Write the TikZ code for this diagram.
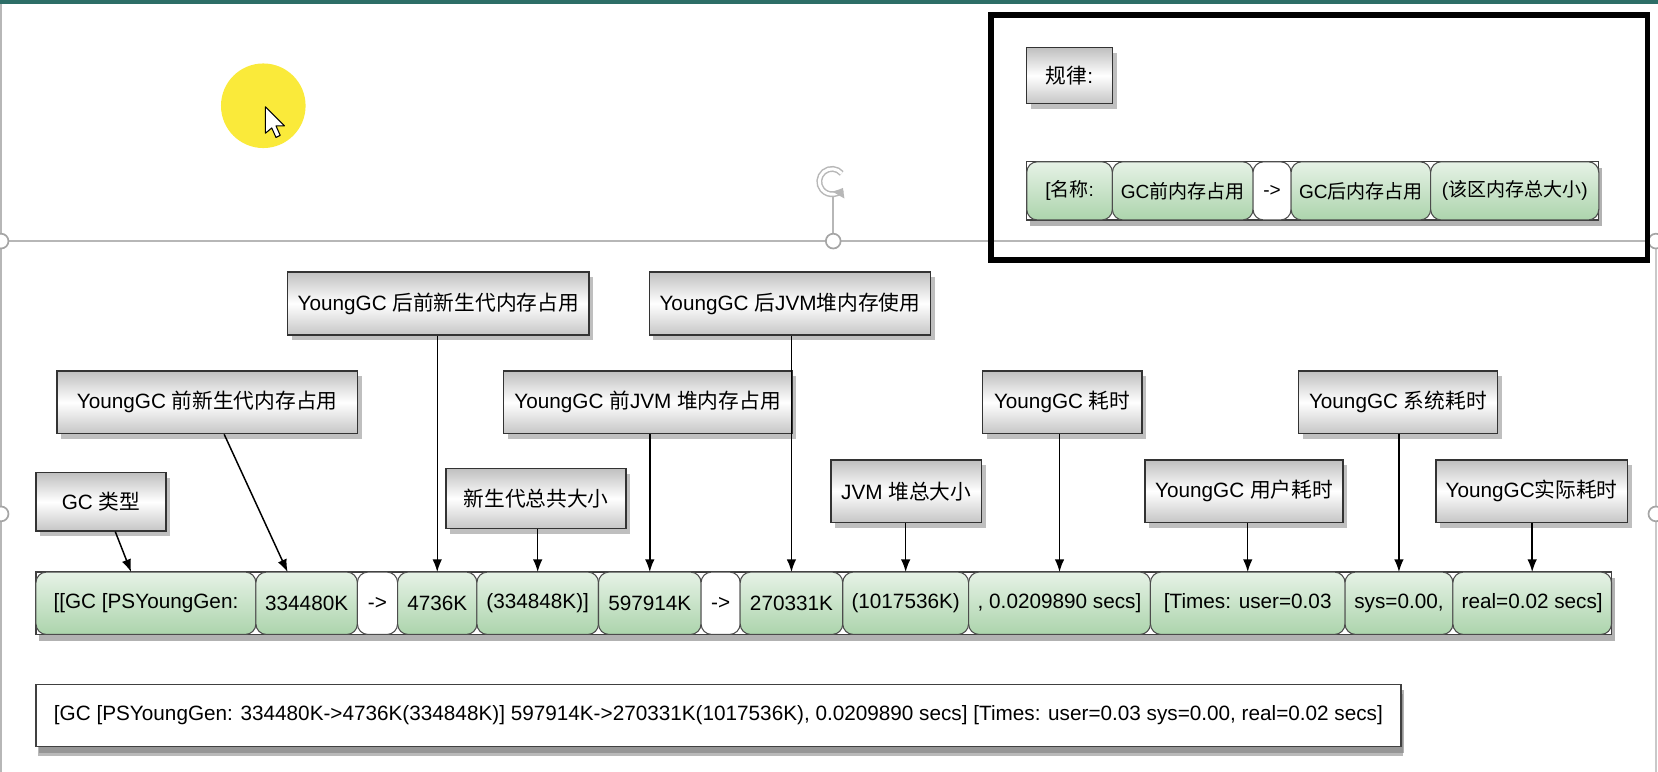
\documentclass[tikz,border=0pt]{standalone}
\usepackage{fontspec}
\setmainfont{Liberation Sans}
\newfontfamily\cjk{Noto Sans CJK SC}
\usepackage{tikz}
\usetikzlibrary{positioning, arrows.meta, shadows}
\definecolor{slidebar}{RGB}{45,110,103}
\definecolor{hilite}{RGB}{250,234,58}
\definecolor{cellgreen}{RGB}{172,212,172}
\definecolor{handlegray}{RGB}{165,165,165}

\begin{document}
\begin{tikzpicture}[x=0.5pt, y=-0.5pt, >={Latex[length=6pt,width=4.5pt]}, font=\fontsize{9.8}{11}\selectfont,
    note/.style={draw=black!80, line width=0.7pt, top color=gray!50, bottom color=gray!45, middle color=white, minimum height=30pt, inner sep=2pt, drop shadow={shadow xshift=2pt, shadow yshift=-2.5pt, opacity=0.5}},
    cell/.style={draw=black!70, line width=0.5pt, rounded corners=5pt, top color=cellgreen!30, bottom color=cellgreen, minimum height=29.5pt, inner sep=1pt, outer sep=0pt},
    arrowcell/.style={cell, top color=white, bottom color=white},
    rowframe/.style={draw=black!75, line width=0.6pt, fill=white, inner sep=0pt, outer sep=0pt, drop shadow={shadow xshift=1.5pt, shadow yshift=-3pt, opacity=0.6}},
    handle/.style={draw=handlegray, line width=0.8pt, fill=white},
    pointer/.style={->, line width=0.7pt}]
    \fill[white] (0,0) rectangle (1568,730);
    \useasboundingbox (0,0) rectangle (1568,730);

    % slide chrome
    \fill[slidebar] (0,0) rectangle (1568,4);
    \draw[handlegray!80, line width=0.6pt] (1,4) -- (1,730);
    \draw[handlegray!60, line width=0.6pt] (1566,228) -- (1566,730);
    \fill[hilite] (249,100) circle[radius=20pt];
    \draw[fill=white, line width=0.5pt, line join=round] (251,101) -- (251,126) -- (257,121) -- (261,130) -- (265,128) -- (261,119) -- (269,119) -- cycle;
    \draw[handlegray!80, line width=0.8pt] (0,228) -- (1568,228);
    \draw[handlegray!80, line width=0.8pt] (788,184) -- (788,228);
    \draw[handlegray!80, double=white, double distance=1.4pt, line width=0.7pt, -{Triangle[length=4pt,width=6pt]}] (796,164) arc[start angle=40, end angle=330, radius=6pt];
    \foreach \hx/\hy in {1/228, 788/228, 1566/228, 1/486, 1566/486}
      \draw[handle] (\hx,\hy) circle[radius=3.5pt];

    % rule box
    \draw[line width=2.6pt] (937,14) rectangle (1558,246);
    \node[note, minimum width=40.5pt, minimum height=26.5pt] (rule) at (1011.5,71.5) {{\cjk 规律}:};
    \begin{scope}[font=\fontsize{9}{10}\selectfont]
      \node[rowframe, minimum width=270.5pt, minimum height=27.5pt, anchor=west] (legend) at (971,180.5) {};
      \node[cell, minimum height=27.5pt, minimum width=40.5pt, anchor=west] (lname) at (legend.west) {[{\cjk 名称}:};
      \node[cell, minimum height=27.5pt, minimum width=66.5pt, right=0pt of lname] (lbefore) {GC{\cjk 前内存占用}};
      \node[arrowcell, minimum height=27.5pt, minimum width=18pt, right=0pt of lbefore] (larrow) {->};
      \node[cell, minimum height=27.5pt, minimum width=66pt, right=0pt of larrow] (lafter) {GC{\cjk 后内存占用}};
      \node[cell, minimum height=27.5pt, minimum width=79.5pt, right=0pt of lafter] (ltotal) {({\cjk 该区内存总大小})};
    \end{scope}

    % the gc log split up
    \node[rowframe, minimum width=745pt, minimum height=29.5pt, anchor=west] (gcrow) at (34,570.5) {};
    \node[cell, minimum width=104pt, anchor=west] (kind) at (gcrow.west) {[[GC [PSYoungGen:};
    \node[cell, minimum width=48pt, right=0pt of kind] (ybefore) {334480K};
    \node[arrowcell, minimum width=19pt, right=0pt of ybefore] (yarrow) {->};
    \node[cell, minimum width=37.5pt, right=0pt of yarrow] (yafter) {4736K};
    \node[cell, minimum width=57.5pt, right=0pt of yafter] (ytotal) {(334848K)]};
    \node[cell, minimum width=48.5pt, right=0pt of ytotal] (hbefore) {597914K};
    \node[arrowcell, minimum width=18.5pt, right=0pt of hbefore] (harrow) {->};
    \node[cell, minimum width=48.5pt, right=0pt of harrow] (hafter) {270331K};
    \node[cell, minimum width=59.5pt, right=0pt of hafter] (htotal) {(1017536K)};
    \node[cell, minimum width=86pt, right=0pt of htotal] (elapsed) {, 0.0209890 secs]};
    \node[cell, minimum width=92pt, right=0pt of elapsed] (usertime) {[Times: user=0.03};
    \node[cell, minimum width=51pt, right=0pt of usertime] (systime) {sys=0.00,};
    \node[cell, minimum width=75pt, right=0pt of systime] (realtime) {real=0.02 secs]};

    % labels
    \node[note, minimum width=142.5pt] (lblyafter) at (414.5,287) {YoungGC {\cjk 后前新生代内存占用}};
    \node[note, minimum width=133pt] (lblhafter) at (747,287) {YoungGC {\cjk 后}JVM{\cjk 堆内存使用}};
    \node[note, minimum width=142pt, minimum height=29.5pt] (lblybefore) at (196,380.5) {YoungGC {\cjk 前新生代内存占用}};
    \node[note, minimum width=136.5pt, minimum height=29.5pt] (lblhbefore) at (612.5,380.5) {YoungGC {\cjk 前}JVM {\cjk 堆内存占用}};
    \node[note, minimum width=75.5pt, minimum height=29.5pt] (lblelapsed) at (1004.5,380.5) {YoungGC {\cjk 耗时}};
    \node[note, minimum width=94pt, minimum height=29.5pt] (lblsys) at (1322,380.5) {YoungGC {\cjk 系统耗时}};
    \node[note, minimum width=61.5pt, minimum height=27.5pt] (lblkind) at (95.5,474.5) {GC {\cjk 类型}};
    \node[note, minimum width=85pt, minimum height=28.5pt] (lblytotal) at (507,471.5) {\cjk 新生代总共大小};
    \node[note, minimum width=71pt, minimum height=29.5pt] (lblhtotal) at (857,464.5) {JVM {\cjk 堆总大小}};
    \node[note, minimum width=93.5pt, minimum height=29.5pt] (lbluser) at (1176.5,464.5) {YoungGC {\cjk 用户耗时}};
    \node[note, minimum width=90.5pt, minimum height=29.5pt] (lblreal) at (1448.5,464.5) {YoungGC{\cjk 实际耗时}};

    \draw[pointer] ([xshift=6.75pt]lblkind.south) -- ([xshift=-7pt]kind.north);
    \draw[pointer] ([xshift=8pt]lblybefore.south) -- ([xshift=-9pt]ybefore.north);
    \draw[pointer] (yafter.north |- lblyafter.south) -- (yafter.north);
    \draw[pointer] (ytotal.north |- lblytotal.south) -- (ytotal.north);
    \draw[pointer] (hbefore.north |- lblhbefore.south) -- (hbefore.north);
    \draw[pointer] (hafter.north |- lblhafter.south) -- (hafter.north);
    \draw[pointer] (htotal.north |- lblhtotal.south) -- (htotal.north);
    \draw[pointer] (elapsed.north |- lblelapsed.south) -- (elapsed.north);
    \draw[pointer] (usertime.north |- lbluser.south) -- (usertime.north);
    \draw[pointer] (systime.north |- lblsys.south) -- (systime.north);
    \draw[pointer] (realtime.north |- lblreal.south) -- (realtime.north);

    % the whole line
    \node[rowframe, minimum width=645.5pt, minimum height=29.5pt, drop shadow={shadow xshift=1pt, shadow yshift=-4.5pt, opacity=0.55}] (gcline) at (679.5,676.5) {[GC [PSYoungGen: 334480K->4736K(334848K)] 597914K->270331K(1017536K), 0.0209890 secs] [Times: user=0.03 sys=0.00, real=0.02 secs]};
\end{tikzpicture}
\end{document}
